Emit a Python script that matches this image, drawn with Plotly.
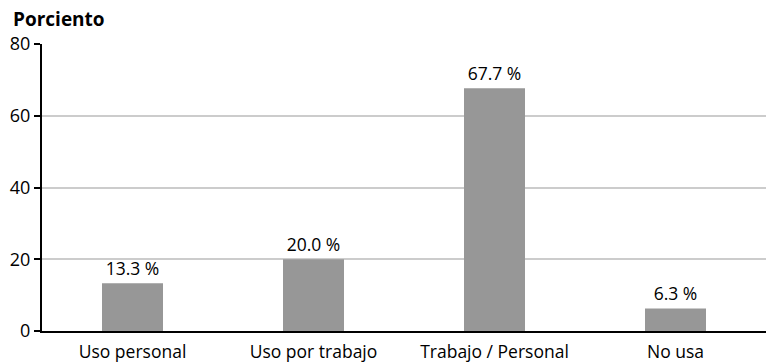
import plotly.graph_objects as go

categories = ["Uso personal", "Uso por trabajo", "Trabajo / Personal", "No usa"]
values = [13.3, 20.0, 67.7, 6.3]
y_ticks = [0, 20, 40, 60, 80]

FONT = "Open Sans"

fig = go.Figure(
    go.Bar(
        x=categories,
        y=values,
        marker=dict(color="#979797", line=dict(width=0)),
        text=[f"{v:.1f} %" for v in values],
        textposition="outside",
        textfont=dict(family=FONT, size=17.5, color="black"),
        cliponaxis=False,
        width=0.337,
    )
)

fig.update_layout(
    width=773,
    height=363,
    margin=dict(l=42, r=7, t=44, b=32),
    paper_bgcolor="white",
    plot_bgcolor="white",
    showlegend=False,
    font=dict(family=FONT, size=17.5, color="black"),
)

fig.update_xaxes(
    showline=True,
    linecolor="black",
    linewidth=2,
    ticks="",
    showgrid=False,
    automargin=False,
    ticklabelstandoff=4,
    tickfont=dict(family=FONT, size=17.5, color="black"),
)
fig.update_yaxes(
    range=[0, 80],
    tickvals=y_ticks,
    showline=True,
    linecolor="black",
    linewidth=2,
    ticks="outside",
    ticklen=6,
    tickwidth=2,
    tickcolor="black",
    showgrid=True,
    gridcolor="#cccccc",
    gridwidth=1.5,
    zeroline=False,
    automargin=False,
    tickfont=dict(family=FONT, size=18, color="black"),
)

fig.add_annotation(
    text="<b>Porciento</b>",
    xref="paper", yref="paper",
    x=0, y=1,
    xshift=-31, yshift=10,
    xanchor="left", yanchor="bottom",
    showarrow=False,
    font=dict(family=FONT, size=19, color="black"),
)

fig.write_html("out.html")
